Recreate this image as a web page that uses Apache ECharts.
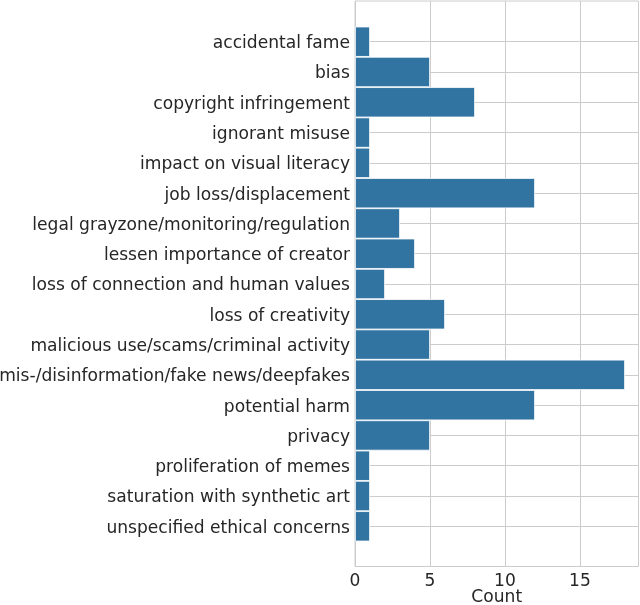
<!DOCTYPE html>
<html>
<head>
<meta charset="utf-8">
<script src="https://cdn.jsdelivr.net/npm/echarts@6/dist/echarts.min.js"></script>
<style>html,body{margin:0;padding:0;background:#fff}#c{width:640px;height:605px}</style>
</head>
<body>
<div id="c"></div>
<script>
const categories = [
  'accidental fame',
  'bias',
  'copyright infringement',
  'ignorant misuse',
  'impact on visual literacy',
  'job loss/displacement',
  'legal grayzone/monitoring/regulation',
  'lessen importance of creator',
  'loss of connection and human values',
  'loss of creativity',
  'malicious use/scams/criminal activity',
  'mis-/disinformation/fake news/deepfakes',
  'potential harm',
  'privacy',
  'proliferation of memes',
  'saturation with synthetic art',
  'unspecified ethical concerns'
];
const counts = [1, 5, 8, 1, 1, 12, 3, 4, 2, 6, 5, 18, 12, 5, 1, 1, 1];
const xTicks = [0, 5, 10, 15];
const xMax = 18.9;
const xTitle = 'Count';

const FONT = "'DejaVu Sans', sans-serif";
const TXT = '#262626';
const GRID = '#cccccc';
const FS = 17.1;

const chart = echarts.init(document.getElementById('c'));
chart.setOption({
  animation: false,
  backgroundColor: '#ffffff',
  grid: [
    {left: 355, right: 1.5, top: 1, bottom: 38.5, show: true, borderColor: GRID, borderWidth: 1,
     backgroundColor: 'transparent', containLabel: false, outerBoundsMode: 'none'},
    {left: 355, right: 1.5, top: 41.7, bottom: 78.7, containLabel: false, outerBoundsMode: 'none'}
  ],
  xAxis: [
    {type: 'value', gridIndex: 0, min: 0, max: xMax, interval: 5,
     axisLine: {show: false}, axisTick: {show: false},
     axisLabel: {color: TXT, fontFamily: FONT, fontSize: FS, margin: 7,
       formatter: v => xTicks.indexOf(v) >= 0 ? String(v) : ''},
     splitLine: {show: true, lineStyle: {color: GRID, width: 1}},
     name: xTitle, nameLocation: 'middle', nameGap: 23, nameMoveOverlap: false,
     nameTextStyle: {color: TXT, fontFamily: FONT, fontSize: FS}},
    {type: 'value', gridIndex: 1, min: 0, max: xMax, show: false}
  ],
  yAxis: [
    {type: 'value', gridIndex: 0, show: false},
    {type: 'category', gridIndex: 1, data: categories, inverse: true, boundaryGap: false,
     axisLine: {show: false}, axisTick: {show: false},
     axisLabel: {color: TXT, fontFamily: FONT, fontSize: FS, margin: 5, interval: 0,
       formatter: v => '{a|' + v + '}',
       rich: {a: {color: TXT, fontFamily: FONT, fontSize: FS, padding: [4, 0, 0, 0]}}},
     splitLine: {show: true, interval: 0, lineStyle: {color: GRID, width: 1}}}
  ],
  series: [{
    type: 'bar',
    xAxisIndex: 1, yAxisIndex: 1,
    data: counts,
    barWidth: '100%',
    clip: false,
    itemStyle: {color: '#3274a1', borderColor: '#ffffff', borderWidth: 0.8}
  }]
});
</script>
</body>
</html>
